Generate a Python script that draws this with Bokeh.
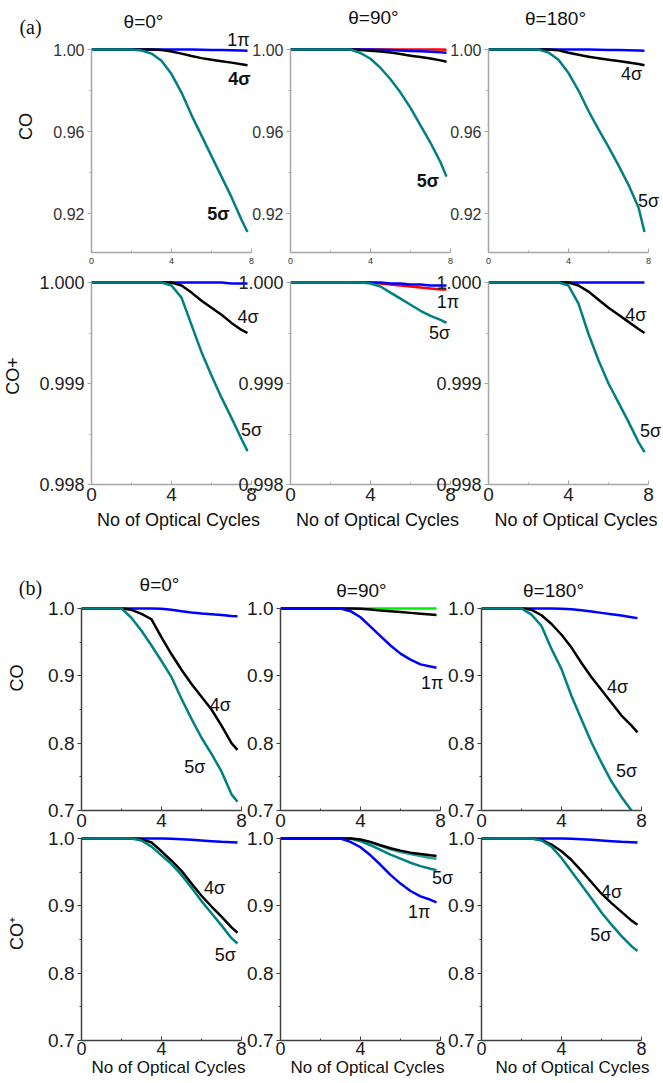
from bokeh.plotting import figure
from bokeh.models import Range1d, FixedTicker, PrintfTickFormatter, Label
from bokeh.layouts import row, column
from bokeh.core.properties import value
from bokeh.embed import file_html
from bokeh.resources import INLINE

# ---------------- data ----------------
X = [0.0, 0.5, 1.0, 1.5, 2.0, 2.5, 3.0, 3.5, 4.0, 4.5, 5.0, 5.5, 6.0, 6.5, 7.0, 7.5, 7.8]
X_TICKS = [0, 4, 8]

# (a) CO
a_co_t0_1pi = [1, 1, 1, 1, 1, 1, 1, 1, 1, 1, 1, 0.9999, 0.9998, 0.9997, 0.9996, 0.9995, 0.9994]
a_co_t0_4s = [1, 1, 1, 1, 1, 1, 1, 0.9997, 0.9990, 0.9980, 0.9968, 0.9958, 0.9950, 0.9943, 0.9936, 0.9928, 0.9923]
a_co_t0_5s = [1, 1, 1, 1, 1, 0.9995, 0.9980, 0.9945, 0.9880, 0.9790, 0.9680, 0.9580, 0.9480, 0.9380, 0.9280, 0.9170, 0.9110]
a_co_t90_red = [1, 1, 1, 1, 1, 1, 1, 1, 1, 1, 1, 1, 1, 1, 1, 0.99995, 0.9999]
a_co_t90_1pi = [1, 1, 1, 1, 1, 1, 1, 1, 1, 0.9999, 0.9997, 0.9995, 0.9993, 0.9991, 0.9989, 0.9986, 0.9984]
a_co_t90_4s = [1, 1, 1, 1, 1, 1, 1, 0.9998, 0.9994, 0.9990, 0.9985, 0.9978, 0.9970, 0.9963, 0.9956, 0.9947, 0.9940]
a_co_t90_5s = [1, 1, 1, 1, 1, 1, 1, 0.9983, 0.9955, 0.9910, 0.9855, 0.9790, 0.9715, 0.9630, 0.9545, 0.9450, 0.9380]
a_co_t180_1pi = [1, 1, 1, 1, 1, 1, 1, 1, 1, 1, 1, 0.9999, 0.9998, 0.9997, 0.9996, 0.9995, 0.9994]
a_co_t180_4s = [1, 1, 1, 1, 1, 1, 1, 0.9996, 0.9984, 0.9974, 0.9965, 0.9957, 0.9950, 0.9944, 0.9937, 0.9929, 0.9923]
a_co_t180_5s = [1, 1, 1, 1, 1, 1, 0.9985, 0.9950, 0.9885, 0.9800, 0.9700, 0.9610, 0.9525, 0.9435, 0.9340, 0.9230, 0.9110]

# (a) CO+
a_cop_t0_1pi = [1, 1, 1, 1, 1, 1, 1, 1, 1, 1, 1, 1, 1, 1, 0.99999, 0.99999, 0.99999]
a_cop_t0_4s = [1, 1, 1, 1, 1, 1, 1, 1, 1, 0.99997, 0.99990, 0.99982, 0.99975, 0.99968, 0.99960, 0.99953, 0.99950]
a_cop_t0_5s = [1, 1, 1, 1, 1, 1, 1, 1, 0.99997, 0.99985, 0.99958, 0.99931, 0.99908, 0.99886, 0.99866, 0.99845, 0.99833]
a_cop_t90_red = [1, 1, 1, 1, 1, 1, 1, 1, 1, 0.99999, 0.99998, 0.99997, 0.99996, 0.99995, 0.99994, 0.99993, 0.99993]
a_cop_t90_1pi = [1, 1, 1, 1, 1, 1, 1, 1, 1, 1, 0.99999, 0.99999, 0.99998, 0.99998, 0.99997, 0.99997, 0.99997]
a_cop_t90_5s = [1, 1, 1, 1, 1, 1, 1, 1, 0.99999, 0.99996, 0.99990, 0.99984, 0.99978, 0.99972, 0.99967, 0.99963, 0.99960]
a_cop_t180_1pi = [1, 1, 1, 1, 1, 1, 1, 1, 1, 1, 1, 1, 1, 1, 1, 1, 1]
a_cop_t180_4s = [1, 1, 1, 1, 1, 1, 1, 1, 1, 0.99997, 0.99991, 0.99983, 0.99975, 0.99968, 0.99961, 0.99954, 0.99950]
a_cop_t180_5s = [1, 1, 1, 1, 1, 1, 1, 1, 0.99997, 0.99979, 0.99949, 0.99923, 0.99900, 0.99881, 0.99862, 0.99842, 0.99832]

# (b) CO
b_co_t0_1pi = [1, 1, 1, 1, 1, 1, 1, 1, 0.9995, 0.9980, 0.9960, 0.9940, 0.9925, 0.9915, 0.9905, 0.9890, 0.9885]
b_co_t0_4s = [1, 1, 1, 1, 1, 0.998, 0.992, 0.984, 0.957, 0.932, 0.909, 0.888, 0.869, 0.850, 0.826, 0.800, 0.790]
b_co_t0_5s = [1, 1, 1, 1, 1, 0.986, 0.967, 0.945, 0.922, 0.898, 0.866, 0.836, 0.808, 0.784, 0.758, 0.724, 0.713]
b_co_t90_green = [1, 1, 1, 1, 1, 1, 1, 1, 1, 1, 1, 1, 1, 1, 1, 1, 1]
b_co_t90_4s = [1, 1, 1, 1, 1, 1, 1, 1, 0.9995, 0.9985, 0.9970, 0.9958, 0.9948, 0.9935, 0.9922, 0.9912, 0.9905]
b_co_t90_1pi = [1, 1, 1, 1, 1, 1, 1, 0.996, 0.987, 0.973, 0.959, 0.945, 0.933, 0.924, 0.917, 0.914, 0.912]
b_co_t180_1pi = [1, 1, 1, 1, 1, 1, 1, 1, 0.9998, 0.9990, 0.9975, 0.9955, 0.9935, 0.9915, 0.9895, 0.9870, 0.9857]
b_co_t180_4s = [1, 1, 1, 1, 1, 0.998, 0.990, 0.977, 0.961, 0.942, 0.919, 0.898, 0.879, 0.860, 0.841, 0.826, 0.816]
b_co_t180_5s = [1, 1, 1, 1, 1, 0.991, 0.974, 0.940, 0.910, 0.870, 0.835, 0.801, 0.771, 0.743, 0.720, 0.700, 0.688]

# (b) CO+
b_cop_t0_1pi = [1, 1, 1, 1, 1, 1, 1, 1, 1, 0.9995, 0.999, 0.998, 0.997, 0.996, 0.995, 0.9945, 0.994]
b_cop_t0_4s = [1, 1, 1, 1, 1, 1, 0.999, 0.994, 0.981, 0.967, 0.952, 0.933, 0.915, 0.899, 0.884, 0.868, 0.860]
b_cop_t0_5s = [1, 1, 1, 1, 1, 1, 0.997, 0.988, 0.975, 0.962, 0.946, 0.927, 0.907, 0.889, 0.871, 0.852, 0.844]
b_cop_t90_other = [1, 1, 1, 1, 1, 1, 1, 1, 0.998, 0.994, 0.989, 0.984, 0.980, 0.977, 0.974, 0.971, 0.970]
b_cop_t90_5s = [1, 1, 1, 1, 1, 1, 1, 1, 0.996, 0.990, 0.983, 0.976, 0.970, 0.964, 0.959, 0.955, 0.953]
b_cop_t90_4s = [1, 1, 1, 1, 1, 1, 1, 1, 0.9985, 0.995, 0.990, 0.9855, 0.982, 0.979, 0.977, 0.975, 0.974]
b_cop_t90_1pi = [1, 1, 1, 1, 1, 1, 1, 0.995, 0.987, 0.975, 0.961, 0.946, 0.933, 0.922, 0.914, 0.909, 0.905]
b_cop_t180_1pi = [1, 1, 1, 1, 1, 1, 1, 1, 1, 0.9995, 0.999, 0.998, 0.997, 0.996, 0.995, 0.9945, 0.994]
b_cop_t180_4s = [1, 1, 1, 1, 1, 1, 0.998, 0.991, 0.981, 0.968, 0.952, 0.935, 0.918, 0.904, 0.891, 0.878, 0.872]
b_cop_t180_5s = [1, 1, 1, 1, 1, 1, 0.997, 0.988, 0.971, 0.951, 0.931, 0.911, 0.890, 0.872, 0.855, 0.840, 0.833]

# panel headings (text only)
HEAD_A = ["θ=0°", "θ=90°", "θ=180°"]
HEAD_B = ["θ=0°", "θ=90°", "θ=180°"]

# ---------------- styling / layout ----------------
SANS = "Liberation Sans"
SERIF = "Liberation Serif"
BLUE, BLACK, TEAL, RED, GREEN, TEAL2 = "#0000ff", "#000000", "#008080", "#ff0000", "#00ee00", "#2e9e96"
W_PAGE = 663
FRAME_W = 160
INNER_LEFT = 60
RIGHT = 14
LW = 2.5

# strips holding the section letters and the column headings (pixel placement)
STRIP_A = dict(h=45, letter=("(a)", 30, 26), heads=(HEAD_A, [143, 373, 555], [21, 17, 18]))
STRIP_B = dict(h=60, letter=("(b)", 30, 42), heads=(HEAD_B, [159, 361, 553], [39, 45, 45]))

ROWS = [
    dict(y0=0.901, fig_top=0, data_px=(49, 252), bottom=15, mt=-STRIP_A["h"], fl=[91, 290, 488],
         ticks=[0.92, 0.96, 1.0], minor=[0.94, 0.98], fmt="%.2f", yfont="16px", xfont="9px",
         xstand=5, ylabel="CO", ylstand=14, xlabel=None, axc="#a6a6a6", labc="#333333",
         lab_style="bold",
         panels=[
             dict(series=[(a_co_t0_1pi, BLUE), (a_co_t0_4s, BLACK), (a_co_t0_5s, TEAL)],
                  labels=[("1π", 7.35, 1.0044, "normal"), ("4σ", 7.4, 0.9858, None), ("5σ", 6.35, 0.920, None)]),
             dict(series=[(a_co_t90_red, RED), (a_co_t90_1pi, BLUE), (a_co_t90_4s, BLACK), (a_co_t90_5s, TEAL)],
                  labels=[("5σ", 6.87, 0.936, None)]),
             dict(series=[(a_co_t180_1pi, BLUE), (a_co_t180_4s, BLACK), (a_co_t180_5s, TEAL)],
                  labels=[("4σ", 7.15, 0.988, "normal"), ("5σ", 8.0, 0.926, "normal")]),
         ]),
    dict(y0=0.998, fig_top=267, data_px=(282, 484), bottom=61, mt=0, fl=[91, 290, 488],
         ticks=[0.998, 0.999, 1.0], minor=[0.9985, 0.9995], fmt="%.3f", yfont="18px", xfont="19px",
         xstand=3, ylabel="CO+", ylstand=13, xlabel="No of Optical Cycles", xlsize="18px", xlstand=6,
         axc="#a6a6a6", labc="#222222", lab_style="normal",
         panels=[
             dict(series=[(a_cop_t0_1pi, BLUE), (a_cop_t0_4s, BLACK), (a_cop_t0_5s, TEAL)],
                  labels=[("4σ", 7.83, 0.99966, None), ("5σ", 8.0, 0.99854, None)]),
             dict(series=[(a_cop_t90_red, RED), (a_cop_t90_1pi, BLUE), (a_cop_t90_5s, TEAL)],
                  labels=[("1π", 7.87, 0.99981, None), ("5σ", 7.45, 0.99950, None)]),
             dict(series=[(a_cop_t180_1pi, BLUE), (a_cop_t180_4s, BLACK), (a_cop_t180_5s, TEAL)],
                  labels=[("4σ", 7.37, 0.99968, None), ("5σ", 8.1, 0.99853, None)]),
         ]),
    dict(y0=0.7, fig_top=545, data_px=(608, 810), bottom=22, mt=-STRIP_B["h"], fl=[81, 280, 481],
         ticks=[0.7, 0.8, 0.9, 1.0], minor=[0.75, 0.85, 0.95], fmt="%.1f", yfont="19px", xfont="19px",
         xstand=3, ylabel="CO", ylstand=18, xlabel=None, axc="#404040", labc="#1a1a1a",
         lab_style="normal",
         panels=[
             dict(series=[(b_co_t0_1pi, BLUE), (b_co_t0_4s, BLACK), (b_co_t0_5s, TEAL)],
                  labels=[("4σ", 6.94, 0.856, None), ("5σ", 5.67, 0.764, None)]),
             dict(series=[(b_co_t90_green, GREEN), (b_co_t90_4s, BLACK), (b_co_t90_1pi, BLUE)],
                  labels=[("1π", 7.58, 0.889, None)]),
             dict(series=[(b_co_t180_1pi, BLUE), (b_co_t180_4s, BLACK), (b_co_t180_5s, TEAL)],
                  labels=[("4σ", 6.8, 0.883, None), ("5σ", 7.25, 0.759, None)]),
         ]),
    dict(y0=0.7, fig_top=826, data_px=(838, 1040), bottom=43, mt=-6, fl=[81, 280, 481],
         ticks=[0.7, 0.8, 0.9, 1.0], minor=[0.75, 0.85, 0.95], fmt="%.1f", yfont="19px", xfont="18px",
         xstand=1, ylabel="CO⁺", ylstand=18, xlabel="No of Optical Cycles", xlsize="17px", xlstand=0,
         axc="#404040", labc="#1a1a1a", lab_style="normal",
         panels=[
             dict(series=[(b_cop_t0_1pi, BLUE), (b_cop_t0_4s, BLACK), (b_cop_t0_5s, TEAL)],
                  labels=[("4σ", 6.65, 0.926, None), ("5σ", 7.19, 0.827, None)]),
             dict(series=[(b_cop_t90_other, TEAL2), (b_cop_t90_5s, TEAL), (b_cop_t90_4s, BLACK), (b_cop_t90_1pi, BLUE)],
                  labels=[("5σ", 8.1, 0.942, None), ("1π", 6.94, 0.891, None)]),
             dict(series=[(b_cop_t180_1pi, BLUE), (b_cop_t180_4s, BLACK), (b_cop_t180_5s, TEAL)],
                  labels=[("4σ", 6.5, 0.921, None), ("5σ", 5.97, 0.857, None)]),
         ]),
]


def make_strip(st):
    h = st["h"]
    p = figure(width=W_PAGE, height=h, x_range=Range1d(0, W_PAGE), y_range=Range1d(h, 0),
               x_axis_type=None, y_axis_type=None, output_backend="svg", toolbar_location=None,
               title=None, min_border=0)
    p.min_border_left = p.min_border_right = p.min_border_top = p.min_border_bottom = 0
    p.background_fill_color = None
    p.border_fill_color = None
    p.outline_line_color = None
    txt, lx, ly = st["letter"]
    p.text(x=[lx], y=[ly], text=[txt], text_font=value(SERIF), text_font_size=value("20px"),
           text_align="center", text_baseline="middle", text_color="#111111")
    heads, hx, hy = st["heads"]
    p.text(x=hx, y=hy, text=heads, text_font=value(SANS), text_font_size=value("19px"),
           text_align="center", text_baseline="middle", text_color="#111111")
    return p


def make_panel(rs, col):
    pn = rs["panels"][col]
    y0 = rs["y0"]
    d_top, d_bot = rs["data_px"]
    span = d_bot - d_top
    y1 = 1.0 + (1.0 - y0) * (d_top - rs["fig_top"]) / span
    fl = rs["fl"]
    left = fl[0] if col == 0 else INNER_LEFT
    right = (W_PAGE - fl[2] - FRAME_W) if col == 2 else RIGHT
    width = left + FRAME_W + right
    height = d_bot + rs["bottom"] - rs["fig_top"]
    x1 = 8.0 * (FRAME_W + right) / FRAME_W
    p = figure(width=width, height=height, x_range=Range1d(0, x1), y_range=Range1d(y0, y1),
               min_border_left=left, min_border_right=0, min_border_top=0,
               min_border_bottom=rs["bottom"], output_backend="svg", toolbar_location=None,
               title=None)
    p.background_fill_color = None
    p.border_fill_color = None
    p.outline_line_color = None
    p.xgrid.visible = False
    p.ygrid.visible = False
    ml = 0 if col == 0 else (fl[col] - left) - (fl[col - 1] + FRAME_W + RIGHT)
    p.margin = (rs["mt"], 0, 0, ml)

    for vals, colr in pn["series"]:
        p.line(X, vals, line_color=colr, line_width=LW, line_join="round")

    xa = p.xaxis[0]
    xa.ticker = FixedTicker(ticks=X_TICKS, minor_ticks=[2, 6])
    xa.bounds = (0, 8)
    xa.axis_line_color = rs["axc"]
    xa.axis_line_width = 1.5
    xa.major_tick_line_color = rs["axc"]
    xa.minor_tick_line_color = rs["axc"]
    xa.major_tick_in = 4
    xa.major_tick_out = 0
    xa.minor_tick_in = 2
    xa.minor_tick_out = 0
    xa.major_label_text_font = SANS
    xa.major_label_text_font_size = rs["xfont"]
    xa.major_label_text_color = rs["labc"]
    xa.major_label_standoff = rs["xstand"]
    if rs["xlabel"]:
        xa.axis_label = rs["xlabel"]
        xa.axis_label_text_font = SANS
        xa.axis_label_text_font_style = "normal"
        xa.axis_label_text_font_size = rs["xlsize"]
        xa.axis_label_text_color = "#111111"
        xa.axis_label_standoff = rs["xlstand"]

    ya = p.yaxis[0]
    ya.ticker = FixedTicker(ticks=rs["ticks"], minor_ticks=rs["minor"])
    ya.formatter = PrintfTickFormatter(format=rs["fmt"])
    ya.bounds = (y0, 1.0)
    ya.axis_line_color = rs["axc"]
    ya.axis_line_width = 1.5
    ya.major_tick_line_color = rs["axc"]
    ya.minor_tick_line_color = rs["axc"]
    ya.major_tick_in = 0
    ya.major_tick_out = 4
    ya.minor_tick_in = 0
    ya.minor_tick_out = 2
    ya.major_label_text_font = SANS
    ya.major_label_text_font_size = rs["yfont"]
    ya.major_label_text_color = rs["labc"]
    ya.major_label_standoff = 3
    if col == 0:
        ya.axis_label = rs["ylabel"]
        ya.axis_label_text_font = SANS
        ya.axis_label_text_font_style = "normal"
        ya.axis_label_text_font_size = "18px"
        ya.axis_label_text_color = "#111111"
        ya.axis_label_standoff = rs["ylstand"]

    for txt, lx, ly, style in pn["labels"]:
        p.add_layout(Label(x=lx, y=ly, text=txt, text_font=SANS, text_font_size="18px",
                           text_font_style=style or rs["lab_style"], text_align="center",
                           text_baseline="middle", text_color="#111111"))
    return p


items = [make_strip(STRIP_A)]
for i, rs in enumerate(ROWS):
    if i == 2:
        items.append(make_strip(STRIP_B))
    items.append(row(*[make_panel(rs, c) for c in range(3)]))

layout = column(*items)
open("out.html", "w").write(file_html(layout, INLINE, title="CO and CO+ orbital survival"))
